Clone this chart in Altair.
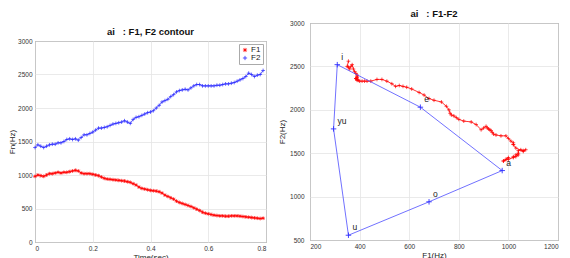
import altair as alt
import pandas as pd

# ---- data ----
time_s = [0.00, 0.01, 0.02, 0.03, 0.04, 0.05, 0.06, 0.07, 0.08, 0.09,
          0.10, 0.11, 0.12, 0.13, 0.14, 0.15, 0.16, 0.17, 0.18, 0.19,
          0.20, 0.21, 0.22, 0.23, 0.24, 0.25, 0.26, 0.27, 0.28, 0.29,
          0.30, 0.31, 0.32, 0.33, 0.34, 0.35, 0.36, 0.37, 0.38, 0.39,
          0.40, 0.41, 0.42, 0.43, 0.44, 0.45, 0.46, 0.47, 0.48, 0.49,
          0.50, 0.51, 0.52, 0.53, 0.54, 0.55, 0.56, 0.57, 0.58, 0.59,
          0.60, 0.61, 0.62, 0.63, 0.64, 0.65, 0.66, 0.67, 0.68, 0.69,
          0.70, 0.71, 0.72, 0.73, 0.74, 0.75, 0.76, 0.77, 0.78, 0.79]

f1 = [980, 1000, 990, 980, 1000, 1020, 1020, 1030, 1040, 1030,
      1040, 1040, 1050, 1060, 1070, 1060, 1030, 1020, 1020, 1020,
      1010, 1000, 990, 970, 950, 940, 935, 930, 925, 920,
      915, 910, 900, 890, 870, 850, 820, 800, 790, 780,
      770, 765, 760, 750, 730, 700, 680, 660, 640, 610,
      590, 575, 560, 545, 530, 510, 490, 470, 445, 430,
      420, 410, 400, 395, 390, 390, 385, 385, 390, 390,
      390, 385, 380, 375, 370, 365, 360, 355, 350, 355]

f2 = [1410, 1450, 1430, 1410, 1430, 1450, 1460, 1460, 1480, 1480,
      1500, 1530, 1540, 1530, 1540, 1520, 1560, 1600, 1600, 1620,
      1640, 1670, 1700, 1700, 1710, 1720, 1740, 1760, 1770, 1780,
      1790, 1810, 1790, 1770, 1830, 1860, 1870, 1890, 1910, 1930,
      1940, 1960, 2000, 2040, 2090, 2110, 2130, 2170, 2200, 2240,
      2260, 2270, 2280, 2270, 2300, 2330, 2350, 2350, 2330, 2330,
      2330, 2330, 2330, 2340, 2340, 2350, 2360, 2360, 2370, 2380,
      2400, 2420, 2440, 2470, 2520, 2500, 2470, 2490, 2500, 2560]

vowels = ["i", "e", "a", "o", "u", "yu"]
vowel_f1 = [310, 645, 975, 680, 355, 295]
vowel_f2 = [2520, 2030, 1300, 940, 555, 1780]
vowel_order = [0, 1, 2, 3, 4, 5]

series_names = ["F1", "F2"]
series_colors = ["#ff0000", "#2a2aff"]

left_title = "ai\u00a0\u00a0\u00a0: F1, F2 contour"
right_title = "ai\u00a0\u00a0\u00a0: F1-F2"

PLUS = "M-1,0L1,0M0,-1L0,1"
STAR = "M-1,0L1,0M0,-1L0,1M-0.7,-0.7L0.7,0.7M-0.7,0.7L0.7,-0.7"

FONT = "Liberation Sans"

# ---- tables ----
rows = []
for i, tt in enumerate(time_s):
    rows.append({"time": tt, "value": f1[i], "series": "F1"})
    rows.append({"time": tt, "value": f2[i], "series": "F2"})
df_left = pd.DataFrame(rows)

df_traj = pd.DataFrame({"F1": f1, "F2": f2, "k": list(range(len(f1)))})

df_v = pd.DataFrame({"vowel": vowels, "F1": vowel_f1, "F2": vowel_f2, "ord": vowel_order})
df_poly = pd.concat([df_v, df_v.iloc[[0]].assign(ord=6)], ignore_index=True)

# ---- left panel ----
xL = alt.X("time:Q", scale=alt.Scale(domain=[0, 0.8], nice=False),
           axis=alt.Axis(values=[0, 0.2, 0.4, 0.6, 0.8], title="Time(sec)", format="~g"))
yL = alt.Y("value:Q", scale=alt.Scale(domain=[0, 3000], nice=False),
           axis=alt.Axis(values=[0, 500, 1000, 1500, 2000, 2500, 3000], title="Fn(Hz)",
                         format="d", titlePadding=1))
colorL = alt.Color("series:N", scale=alt.Scale(domain=series_names, range=series_colors),
                   legend=alt.Legend(orient="top-right", title=None))
shapeL = alt.Shape("series:N", scale=alt.Scale(domain=series_names, range=[STAR, PLUS]),
                   legend=alt.Legend(orient="top-right", title=None))

left_line = alt.Chart(df_left).mark_line(strokeWidth=0.8).encode(
    x=xL, y=yL, color=colorL, detail="series:N")
left_pts = alt.Chart(df_left).mark_point(filled=False, strokeWidth=0.7, size=14, opacity=1).encode(
    x=xL, y=yL, color=colorL, shape=shapeL)

left_plot = alt.layer(left_line, left_pts).properties(width=231, height=201)

# title band for the left panel (sits lower than the right panel's title)
title_band = alt.Chart(pd.DataFrame({"t": [left_title]})).mark_text(
    fontSize=9.5, font=FONT, fontWeight="bold", color="#111", baseline="middle", align="center"
).encode(text="t:N", x=alt.value(115.5), y=alt.value(9)).properties(
    width=231, height=10, view=alt.ViewBackground(stroke="transparent"))

left = alt.vconcat(title_band, left_plot, spacing=0).resolve_legend(
    color="independent", shape="independent")

# ---- right panel ----
xR = alt.X("F1:Q", scale=alt.Scale(domain=[200, 1200], nice=False),
           axis=alt.Axis(values=[200, 400, 600, 800, 1000, 1200], title="F1(Hz)", format="d"))
yR = alt.Y("F2:Q", scale=alt.Scale(domain=[500, 3000], nice=False),
           axis=alt.Axis(values=[500, 1000, 1500, 2000, 2500, 3000], title="F2(Hz)",
                         format="d", labelPadding=6, titlePadding=3))

traj_line = alt.Chart(df_traj).mark_line(strokeWidth=0.8, color="#ff0000").encode(
    x=xR, y=yR, order="k:Q")
traj_pts = alt.Chart(df_traj).mark_point(filled=False, strokeWidth=0.7, size=14,
                                         shape=PLUS, color="#ff0000", opacity=1).encode(x=xR, y=yR)
poly_line = alt.Chart(df_poly).mark_line(strokeWidth=0.8, color="#4d4dff").encode(
    x=xR, y=yR, order="ord:Q")
poly_pts = alt.Chart(df_v).mark_point(filled=False, strokeWidth=0.9, size=30,
                                      shape=PLUS, color="#3030ff", opacity=1).encode(x=xR, y=yR)
poly_txt = alt.Chart(df_v).mark_text(align="left", baseline="bottom", dx=4, dy=-3,
                                     fontSize=8.5, font=FONT, color="#222").encode(
    x=xR, y=yR, text="vowel:N")

right = alt.layer(traj_line, traj_pts, poly_line, poly_pts, poly_txt).properties(
    width=248, height=217,
    title=alt.TitleParams(text=right_title, fontSize=9.5, font=FONT,
                          fontWeight="bold", offset=2, color="#111"))

chart = alt.hconcat(left, right, spacing=11).resolve_legend(
    color="independent", shape="independent"
).properties(
    padding={"left": 0, "top": 0, "right": 0, "bottom": 0}
).configure_axis(
    labelFontSize=6.5, labelColor="#333", labelFont=FONT,
    titleFontSize=8, titleFont=FONT, titleFontWeight="normal", titleColor="#222",
    gridColor="#e4e4e4", gridWidth=0.8, domain=False, ticks=False, labelPadding=3,
    titlePadding=2
).configure_view(
    stroke="#555", strokeWidth=1
).configure_legend(
    offset=3, padding=2, strokeColor="#aaa", fillColor="white",
    labelFontSize=8, labelFont=FONT, labelColor="#222", symbolSize=18, rowPadding=-2,
    symbolStrokeWidth=0.8, labelOffset=2, cornerRadius=0
)

chart.save("out.html", embed_options={"renderer": "svg", "actions": False})
